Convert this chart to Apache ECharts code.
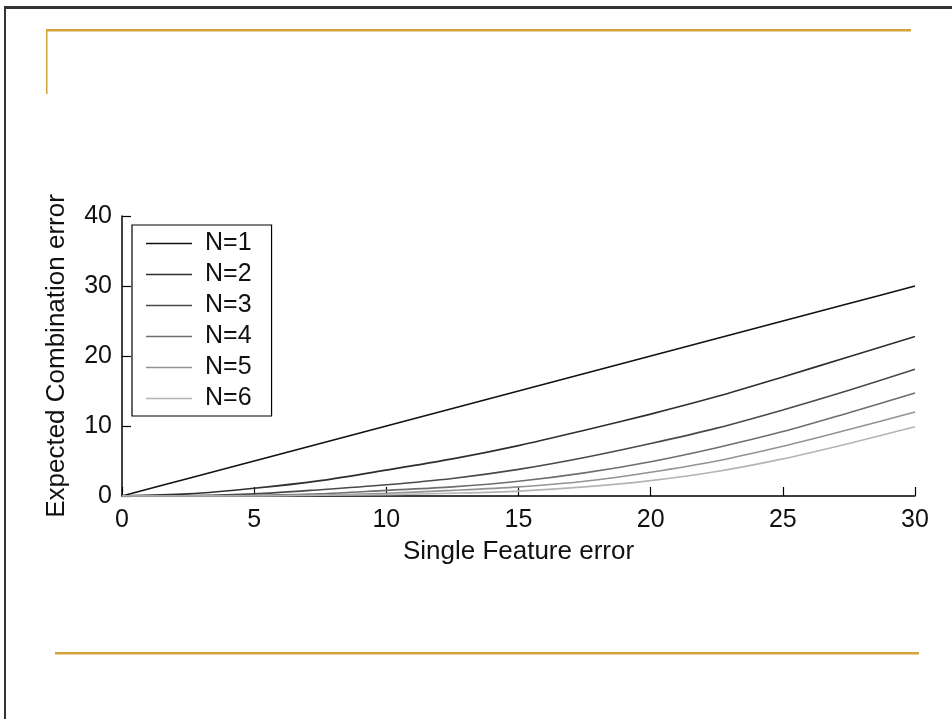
<!DOCTYPE html>
<html>
<head>
<meta charset="utf-8">
<title>Expected Combination error</title>
<script src="https://cdn.jsdelivr.net/npm/echarts@6/dist/echarts.min.js"></script>
<style>
	html, body { margin: 0; padding: 0; background: #fff; }
	#chart { width: 952px; height: 719px; }
</style>
</head>
<body>
<div id="chart"></div>
<script>
// 横轴取值（Single Feature error）
var xValues = [0, 2.5, 5, 7.5, 10, 12.5, 15, 17.5, 20, 22.5, 25, 27.5, 30];
// 各 N 的曲线
var n1 = [0, 2.5, 5, 7.5, 10, 12.5, 15, 17.5, 20, 22.5, 25, 27.5, 30];
var n2 = [0, 0.3, 1.1, 2.2, 3.7, 5.3, 7.2, 9.4, 11.7, 14.2, 17.0, 19.9, 22.8];
var n3 = [0, 0.05, 0.3, 0.9, 1.6, 2.5, 3.8, 5.5, 7.5, 9.7, 12.3, 15.1, 18.1];
var n4 = [0, 0, 0.1, 0.3, 0.8, 1.3, 2.1, 3.3, 4.9, 6.9, 9.2, 11.9, 14.7];
var n5 = [0, 0, 0.05, 0.15, 0.4, 0.8, 1.3, 2.1, 3.4, 5.0, 7.1, 9.5, 12.0];
var n6 = [0, 0, 0, 0.1, 0.2, 0.4, 0.7, 1.3, 2.2, 3.5, 5.3, 7.5, 9.9];
var seriesNames = ["N=1", "N=2", "N=3", "N=4", "N=5", "N=6"];
var seriesValues = [n1, n2, n3, n4, n5, n6];
var lineColors = ["#111", "#2e2e2e", "#4a4a4a", "#6e6e6e", "#939393", "#b4b4b4"];

var fontName = "'Liberation Sans', Arial, Helvetica, sans-serif";
var gold = "#d4a43c";

function pairUp(vals) {
	var out = [];
	for(var i = 0; i < xValues.length; i++) {
		out.push([xValues[i], vals[i]]);
	}
	return out;
}

var series = [];
for(var i = 0; i < seriesNames.length; i++) {
	series.push({
		name: seriesNames[i],
		type: "line",
		symbol: "none",
		smooth: 0.3,
		data: pairUp(seriesValues[i]),
		lineStyle: { color: lineColors[i], width: 1.6 },
		itemStyle: { color: lineColors[i] }
	});
}

var chart = echarts.init(document.getElementById("chart"));
chart.setOption({
	animation: false,
	backgroundColor: "#fff",
	textStyle: { fontFamily: fontName },
	grid: { left: 122, right: 37, top: 216, bottom: 223 },
	legend: {
		orient: "vertical",
		left: 132,
		top: 225,
		data: seriesNames,
		icon: "rect",
		backgroundColor: "#fff",
		borderColor: "#000",
		borderWidth: 1.2,
		borderRadius: 0,
		padding: [6, 20, 5, 14],
		itemGap: 6,
		itemWidth: 46,
		itemHeight: 1.6,
		textStyle: { fontSize: 25, color: "#111", fontFamily: fontName, padding: [0, 0, 0, 8] }
	},
	xAxis: {
		type: "value",
		min: 0,
		max: 30,
		interval: 5,
		name: "Single Feature error",
		nameLocation: "middle",
		nameGap: 43,
		nameTextStyle: { fontSize: 26, color: "#111", fontFamily: fontName },
		axisLine: { lineStyle: { color: "#000", width: 1.5 } },
		axisTick: { inside: true, length: 9, lineStyle: { color: "#000", width: 1.2 } },
		axisLabel: { fontSize: 25, color: "#111", margin: 12, fontFamily: fontName },
		splitLine: { show: false }
	},
	yAxis: {
		type: "value",
		min: 0,
		max: 40,
		interval: 10,
		name: "Expected Combination error",
		nameLocation: "middle",
		nameGap: 52,
		nameTextStyle: { fontSize: 26, color: "#111", fontFamily: fontName },
		axisLine: { show: true, lineStyle: { color: "#000", width: 1.5 } },
		axisTick: { show: true, inside: true, length: 9, lineStyle: { color: "#000", width: 1.2 } },
		axisLabel: { fontSize: 25, color: "#111", margin: 10, fontFamily: fontName },
		splitLine: { show: false }
	},
	// 幻灯片边框和金色装饰线
	graphic: [
		{ type: "rect", shape: { x: 4, y: 6, width: 948, height: 3 }, style: { fill: "#333" }, silent: true },
		{ type: "rect", shape: { x: 4, y: 6, width: 2, height: 713 }, style: { fill: "#333" }, silent: true },
		{ type: "rect", shape: { x: 46, y: 29, width: 865, height: 2.5 }, style: { fill: gold }, silent: true },
		{ type: "rect", shape: { x: 46, y: 29, width: 1.5, height: 65 }, style: { fill: gold }, silent: true },
		{ type: "rect", shape: { x: 55, y: 652, width: 864, height: 2.5 }, style: { fill: gold }, silent: true }
	],
	series: series
});
</script>
</body>
</html>
